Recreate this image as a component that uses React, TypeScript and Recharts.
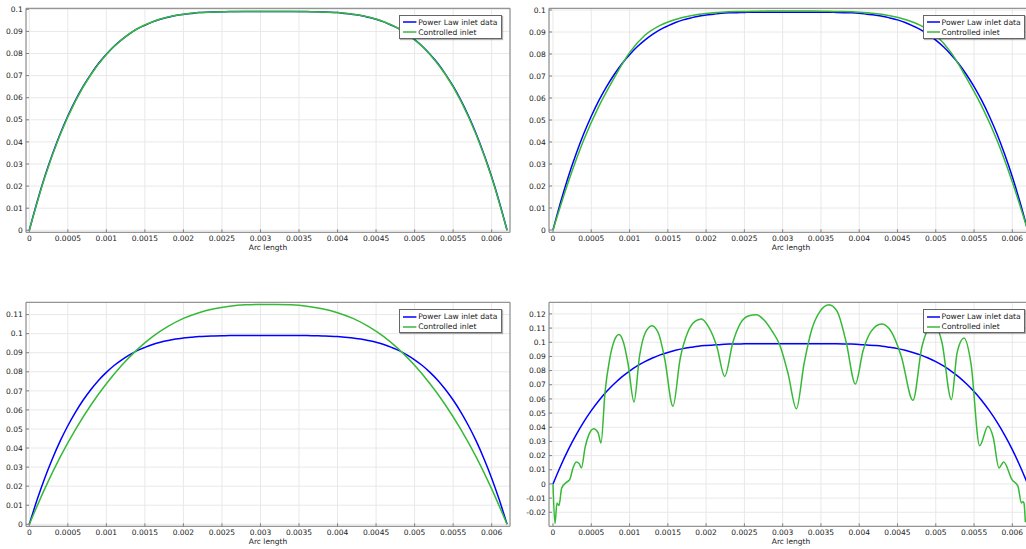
import React from 'react';
import { LineChart, Line, XAxis, YAxis, CartesianGrid, Legend } from 'recharts';

// arc length (m), fine grid for the power law data
const arcFine = [
  0, 0.0001, 0.0002, 0.0003, 0.0004, 0.0005, 0.0006, 0.0007, 0.0008, 0.0009,
  0.001, 0.0011, 0.0012, 0.0013, 0.0014, 0.0015, 0.0016, 0.0017, 0.0018, 0.0019,
  0.002, 0.0021, 0.0022, 0.0023, 0.0024, 0.0025, 0.0026, 0.0027, 0.0028, 0.0029,
  0.003, 0.0031, 0.0032, 0.0033, 0.0034, 0.0035, 0.0036, 0.0037, 0.0038, 0.0039,
  0.004, 0.0041, 0.0042, 0.0043, 0.0044, 0.0045, 0.0046, 0.0047, 0.0048, 0.0049,
  0.005, 0.0051, 0.0052, 0.0053, 0.0054, 0.0055, 0.0056, 0.0057, 0.0058, 0.0059,
  0.006, 0.0061, 0.0062,
];

const powerLaw = [
  0, 0.0127, 0.0242, 0.0344, 0.0436, 0.0517, 0.0589, 0.0652, 0.0707, 0.0756,
  0.0797, 0.0833, 0.0863, 0.0889, 0.0911, 0.0928, 0.0943, 0.0955, 0.0964, 0.0972,
  0.0977, 0.0981, 0.0985, 0.0987, 0.0988, 0.0989, 0.099, 0.099, 0.099, 0.099,
  0.099, 0.099, 0.099, 0.099, 0.099, 0.099, 0.099,
  0.0989, 0.0988, 0.0987, 0.0985, 0.0981, 0.0977,
  0.0972, 0.0964, 0.0955, 0.0943, 0.0928, 0.0911, 0.0889, 0.0863, 0.0833, 0.0797,
  0.0756, 0.0707, 0.0652, 0.0589, 0.0517, 0.0436, 0.0344, 0.0242, 0.0127, 0,
];

// coarser grid for the smooth controlled profiles
const arcCoarse = [
  0, 0.0002, 0.0004, 0.0006, 0.0008, 0.001, 0.0012, 0.0014, 0.0016, 0.0018,
  0.002, 0.0022, 0.0024, 0.0026, 0.0028, 0.003, 0.0032, 0.0034, 0.0036, 0.0038,
  0.004, 0.0042, 0.0044, 0.0046, 0.0048, 0.005, 0.0052, 0.0054, 0.0056, 0.0058,
  0.006, 0.0062,
];

const controlledA = [
  0, 0.0239, 0.0432, 0.0586, 0.0705, 0.0796, 0.0863, 0.0912, 0.0944, 0.0965,
  0.0978, 0.0985, 0.0988, 0.0989, 0.099, 0.099, 0.099, 0.099, 0.0989, 0.0988,
  0.0985, 0.0978, 0.0965, 0.0944, 0.0912, 0.0863, 0.0796, 0.0705, 0.0586, 0.0432,
  0.0239, 0,
];

const controlledB = [
  0, 0.0218, 0.0408, 0.0563, 0.0692, 0.0806, 0.0885, 0.093, 0.0957, 0.0974,
  0.0984, 0.099, 0.0993, 0.0994, 0.0995, 0.0995, 0.0995, 0.0995, 0.0994, 0.0993,
  0.099, 0.0984, 0.0974, 0.0957, 0.093, 0.0885, 0.0806, 0.0692, 0.0563, 0.0408,
  0.0218, 0,
];

const controlledC = [
  0, 0.0186, 0.0352, 0.0498, 0.0626, 0.0737, 0.0834, 0.0916, 0.0984, 0.1038,
  0.108, 0.111, 0.1131, 0.1144, 0.1151, 0.1153, 0.1153, 0.1151, 0.1144, 0.1131,
  0.111, 0.108, 0.1038, 0.0984, 0.0916, 0.0834, 0.0737, 0.0626, 0.0498, 0.0352,
  0.0186, 0,
];

// oscillating controlled inlet (bottom right)
const arcD = [
  0, 0.000026, 0.000052, 0.000078, 0.000114, 0.000175, 0.000218, 0.00026, 0.000305, 0.00034,
  0.000371, 0.00042, 0.00047, 0.000532, 0.00059, 0.000627, 0.00068, 0.00074, 0.0008, 0.000862,
  0.00092, 0.00098, 0.001058, 0.00113, 0.0012, 0.001293, 0.00138, 0.00146, 0.001567, 0.00166,
  0.00176, 0.00185, 0.001938, 0.00203, 0.00214, 0.002243, 0.00235, 0.00245, 0.00255, 0.002657,
  0.00276, 0.00286, 0.002961, 0.00307, 0.003179, 0.00328, 0.00338, 0.00349, 0.003605, 0.00371,
  0.00383, 0.00395, 0.00405, 0.00416, 0.00429, 0.0044, 0.00455, 0.004702, 0.00482, 0.00497,
  0.00508, 0.005204, 0.00528, 0.005369, 0.00546, 0.005573, 0.005682, 0.00575, 0.005826, 0.005887,
  0.005996, 0.006074, 0.006118, 0.00614, 0.006152, 0.00617,
];

const controlledD = [
  0, -0.028, -0.0134, -0.0153, -0.0028, 0.0011, 0.003, 0.011, 0.0155, 0.0145,
  0.0113, 0.026, 0.035, 0.039, 0.036, 0.0289, 0.065, 0.088, 0.101, 0.1054,
  0.1, 0.085, 0.0579, 0.09, 0.106, 0.1117, 0.106, 0.088, 0.0548, 0.088,
  0.107, 0.1145, 0.1164, 0.111, 0.097, 0.0759, 0.1, 0.1135, 0.1185, 0.1195,
  0.1155, 0.108, 0.0983, 0.078, 0.0531, 0.085, 0.109, 0.122, 0.1265, 0.122,
  0.1, 0.0706, 0.094, 0.108, 0.1129, 0.109, 0.09, 0.059, 0.097, 0.113,
  0.1, 0.0595, 0.093, 0.103, 0.085, 0.027, 0.0407, 0.033, 0.0113, 0.0155,
  0.003, -0.0017, -0.0134, -0.0125, -0.0134, -0.027,
];

const xTicks = [0, 0.0005, 0.001, 0.0015, 0.002, 0.0025, 0.003, 0.0035, 0.004, 0.0045, 0.005, 0.0055, 0.006];
const yTicksTop = [0, 0.01, 0.02, 0.03, 0.04, 0.05, 0.06, 0.07, 0.08, 0.09, 0.1];
const yTicksC = [0, 0.01, 0.02, 0.03, 0.04, 0.05, 0.06, 0.07, 0.08, 0.09, 0.1, 0.11];
const yTicksD = [-0.02, -0.01, 0, 0.01, 0.02, 0.03, 0.04, 0.05, 0.06, 0.07, 0.08, 0.09, 0.1, 0.11, 0.12];

const seriesNames = ['Power Law inlet data', 'Controlled inlet'];

const rows = (xs: number[], ys: number[]) => xs.map((x, i) => ({ x, y: ys[i] }));

const BLUE = '#0000ff';
const GREEN = '#36b936';
const AXIS = '#808080';
const TEXT = '#1a1a1a';

const LegendBox = ({ payload }: any) => {
  const items = [...(payload || [])].sort(
    (a: any, b: any) => seriesNames.indexOf(a.value) - seriesNames.indexOf(b.value)
  );
  return (
    <div
      style={{
        boxSizing: 'border-box',
        width: 102.4,
        height: 24.3,
        background: '#fff',
        border: '1px solid #666',
        boxShadow: '1px 1px 1px rgba(0,0,0,0.3)',
        padding: '1.6px 0 0 3px',
      }}
    >
      {items.map((p: any) => (
        <div key={p.value} style={{ display: 'flex', alignItems: 'center', height: 10, fontSize: 7.6, color: TEXT, whiteSpace: 'nowrap' }}>
          <svg width={13.4} height={4} style={{ marginRight: 1.6 }}>
            <line x1={0} y1={2} x2={13.4} y2={2} stroke={p.color} strokeWidth={1.5} />
          </svg>
          <span>{p.value}</span>
        </div>
      ))}
    </div>
  );
};

type PanelProps = {
  left: number;
  top: number;
  xDomain: number[];
  yDomain: number[];
  yTicks: number[];
  greenX: number[];
  greenY: number[];
};

const Panel = ({ left, top, xDomain, yDomain, yTicks, greenX, greenY }: PanelProps) => (
  <div style={{ position: 'absolute', left, top }}>
    <LineChart width={520} height={255} margin={{ top: 7.3, right: 9, bottom: 4.7, left: 0 }}>
      <CartesianGrid stroke="#e8e8e8" />
      <XAxis
        dataKey="x"
        type="number"
        domain={xDomain}
        ticks={xTicks}
        allowDataOverflow
        interval={0}
        height={18}
        tickSize={-3}
        tickMargin={6.7}
        stroke={AXIS}
        tick={{ fill: TEXT, fontSize: 7.5 }}
        label={{ value: 'Arc length', position: 'insideBottom', offset: 0, fill: TEXT, fontSize: 7.5 }}
      />
      <XAxis
        xAxisId="top"
        orientation="top"
        dataKey="x"
        type="number"
        domain={xDomain}
        ticks={xTicks}
        allowDataOverflow
        interval={0}
        height={1}
        tickSize={-3}
        stroke={AXIS}
        tick={false}
      />
      <YAxis
        type="number"
        domain={yDomain}
        ticks={yTicks}
        allowDataOverflow
        interval={0}
        width={26}
        tickSize={-3}
        tickMargin={6.3}
        stroke={AXIS}
        tick={{ fill: TEXT, fontSize: 7.5 }}
      />
      <YAxis
        yAxisId="right"
        orientation="right"
        type="number"
        domain={yDomain}
        ticks={yTicks}
        allowDataOverflow
        interval={0}
        width={1}
        tickSize={-3}
        stroke={AXIS}
        tick={false}
      />
      <Legend
        layout="vertical"
        align="center"
        verticalAlign="middle"
        wrapperStyle={{ left: 399.3, top: 14.7 }}
        content={LegendBox}
      />
      <Line
        data={rows(arcFine, powerLaw)}
        dataKey="y"
        name={seriesNames[0]}
        type="monotone"
        stroke={BLUE}
        strokeWidth={1.5}
        dot={false}
        isAnimationActive={false}
      />
      <Line
        data={rows(greenX, greenY)}
        dataKey="y"
        name={seriesNames[1]}
        type="monotone"
        stroke={GREEN}
        strokeWidth={1.5}
        dot={false}
        isAnimationActive={false}
      />
    </LineChart>
  </div>
);

const App = () => (
  <div
    style={{
      position: 'fixed',
      left: 0,
      top: 0,
      width: 1026,
      height: 549,
      overflow: 'hidden',
      background: '#fff',
      fontFamily: '"DejaVu Sans", sans-serif',
    }}
  >
    <Panel left={0} top={0} xDomain={[-0.0000428, 0.006238]} yDomain={[-0.000905, 0.100452]} yTicks={yTicksTop} greenX={arcCoarse} greenY={controlledA} />
    <Panel left={523.3} top={0} xDomain={[-0.0000522, 0.00627]} yDomain={[-0.001045, 0.100773]} yTicks={yTicksTop} greenX={arcCoarse} greenY={controlledB} />
    <Panel left={0} top={294.4} xDomain={[-0.0000428, 0.006238]} yDomain={[-0.00105, 0.11645]} yTicks={yTicksC} greenX={arcCoarse} greenY={controlledC} />
    <Panel left={523.3} top={294.4} xDomain={[-0.0000522, 0.00627]} yDomain={[-0.0299, 0.1282]} yTicks={yTicksD} greenX={arcD} greenY={controlledD} />
  </div>
);

export default App;
